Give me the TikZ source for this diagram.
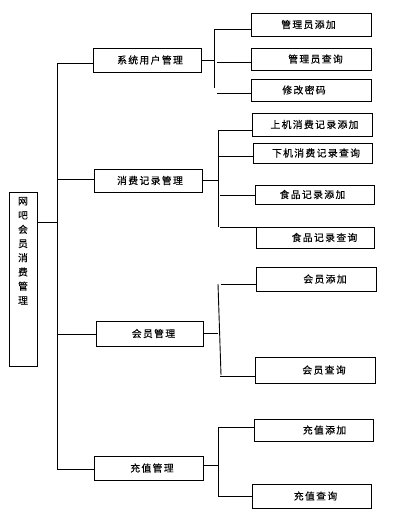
\documentclass[tikz,border=0pt]{standalone}
\usepackage{fontspec}
\setmainfont{Noto Sans CJK SC}[LetterSpace=14, FakeBold=0.3]
\usepackage{tikz}

\begin{document}
\begin{tikzpicture}[
    x=1pt, y=-1pt,
    box/.style={draw, line width=0.9pt, inner sep=0pt, font=\fontsize{9.8pt}{12pt}\selectfont},
    lvone/.style={box, minimum width=108pt, minimum height=24pt},
    lvtwo/.style={box, minimum width=120pt, minimum height=22pt},
    link/.style={line width=0.9pt},
]
\useasboundingbox (0,0) rectangle (415,516);

% root
\node[box, minimum width=28pt, minimum height=174pt] (root) at (23,279)
    {\parbox[c][174pt][t]{23pt}{\vspace*{5pt}\centering\baselineskip=14.2pt
     网\\吧\\会\\员\\消\\费\\管\\理}\hspace{5pt}};

% first level
\node[lvone] (sys) at (147,60) {\hspace*{6pt}系统用户管理};
\node[lvone, minimum height=23pt] (cons) at (148,180.5) {\hspace*{4pt}消费记录管理};
\node[lvone, minimum width=107pt, minimum height=25pt] (mem) at (149.5,333.5) {\hspace*{8pt}会员管理};
\node[lvone, minimum width=109pt] (rech) at (148.5,468) {\hspace*{7pt}充值管理};

% second level
\node[lvtwo, minimum height=23pt] (a1) at (311,24.5) {\hspace*{-5pt}管理员添加};
\node[lvtwo] (a2) at (311,59) {\hspace*{9pt}管理员查询};
\node[lvtwo] (a3) at (311,90) {\hspace*{-14pt}修改密码};

\node[lvtwo, minimum height=23pt] (b1) at (312,124.5) {\hspace*{5pt}上机消费记录添加};
\node[lvtwo, minimum width=119pt, minimum height=20pt] (b2) at (312.5,153) {\hspace*{7pt}下机消费记录查询};
\node[lvtwo, minimum width=119pt, minimum height=19pt] (b3) at (314.5,194.5) {\hspace*{-4pt}食品记录添加};
\node[lvtwo, minimum width=118pt, minimum height=21pt] (b4) at (315,237.5) {\hspace*{19pt}食品记录查询};

\node[lvtwo, minimum height=24pt] (c1) at (316,279) {\hspace*{18pt}会员添加};
\node[lvtwo, minimum height=26pt] (c2) at (315,370) {\hspace*{18pt}会员查询};

\node[lvtwo, minimum width=119pt] (d1) at (313.5,430) {\hspace*{22pt}充值添加};
\node[lvtwo, minimum width=119pt, minimum height=24pt] (d2) at (311.5,496) {\hspace*{8pt}充值查询};

% trunk
\coordinate (trtop) at (57,63);
\coordinate (trbot) at (57,469);
\coordinate (rootj) at (57,222);
\coordinate (consj) at (57,179);
\coordinate (memj) at (57,334);
\draw[link] (trtop) -- (trbot);
\draw[link] (rootj) -- (rootj -| root.east);
\draw[link] (trtop) -- (trtop -| sys.west);
\draw[link] (consj) -- (consj -| cons.west);
\draw[link] (memj) -- (memj -| mem.west);
\draw[link] (trbot) -- (trbot -| rech.west);

% sys group
\coordinate (sysbt) at (214,29);
\coordinate (sysbb) at (214,88);
\coordinate (a2j) at (217,62);
\coordinate (a3j) at (217,93);
\draw[link] (sys.east) -- (sys.east -| sysbt);
\draw[link] (sysbt) -- (sysbb);
\draw[link] (sysbt) -- (sysbt -| a1.west);
\draw[link] (a2j) -- (a2j -| a2.west);
\draw[link] (a3j) -- (a3j -| a3.west);

% cons group
\coordinate (consbt) at (218,130);
\coordinate (consbb) at (218,227);
\coordinate (b2j) at (218,156);
\coordinate (b3j) at (220,195);
\coordinate (b4j) at (220,227);
\draw[link] (cons.east) -- (cons.east -| consbt);
\draw[link] (consbt) -- (consbb);
\draw[link] (consbt) -- (consbt -| b1.west);
\draw[link] (b2j) -- (b2j -| b2.west);
\draw[link] (b3j) -- (b3j -| b3.west);
\draw[link] (b4j) -- (b4j -| b4.west);

% mem group
\coordinate (membt) at (218,284);
\coordinate (membb) at (221,375);
\coordinate (c1j) at (221,284);
\coordinate (c2j) at (220,376);
\draw[link] (mem.east) -- (mem.east -| membt);
\draw[link] (membt) -- (membb);
\draw[link] (c1j) -- (c1j -| c1.west);
\draw[link] (c2j) -- (c2j -| c2.west);

% rech group
\coordinate (rechj) at (203,465);
\coordinate (rechbt) at (218,427);
\coordinate (rechbb) at (218,496);
\draw[link] (rechj) -- (rechj -| rechbt);
\draw[link] (rechbt) -- (rechbb);
\draw[link] (rechbt) -- (rechbt -| d1.west);
\draw[link] (rechbb) -- (rechbb -| d2.west);

\end{tikzpicture}
\end{document}
